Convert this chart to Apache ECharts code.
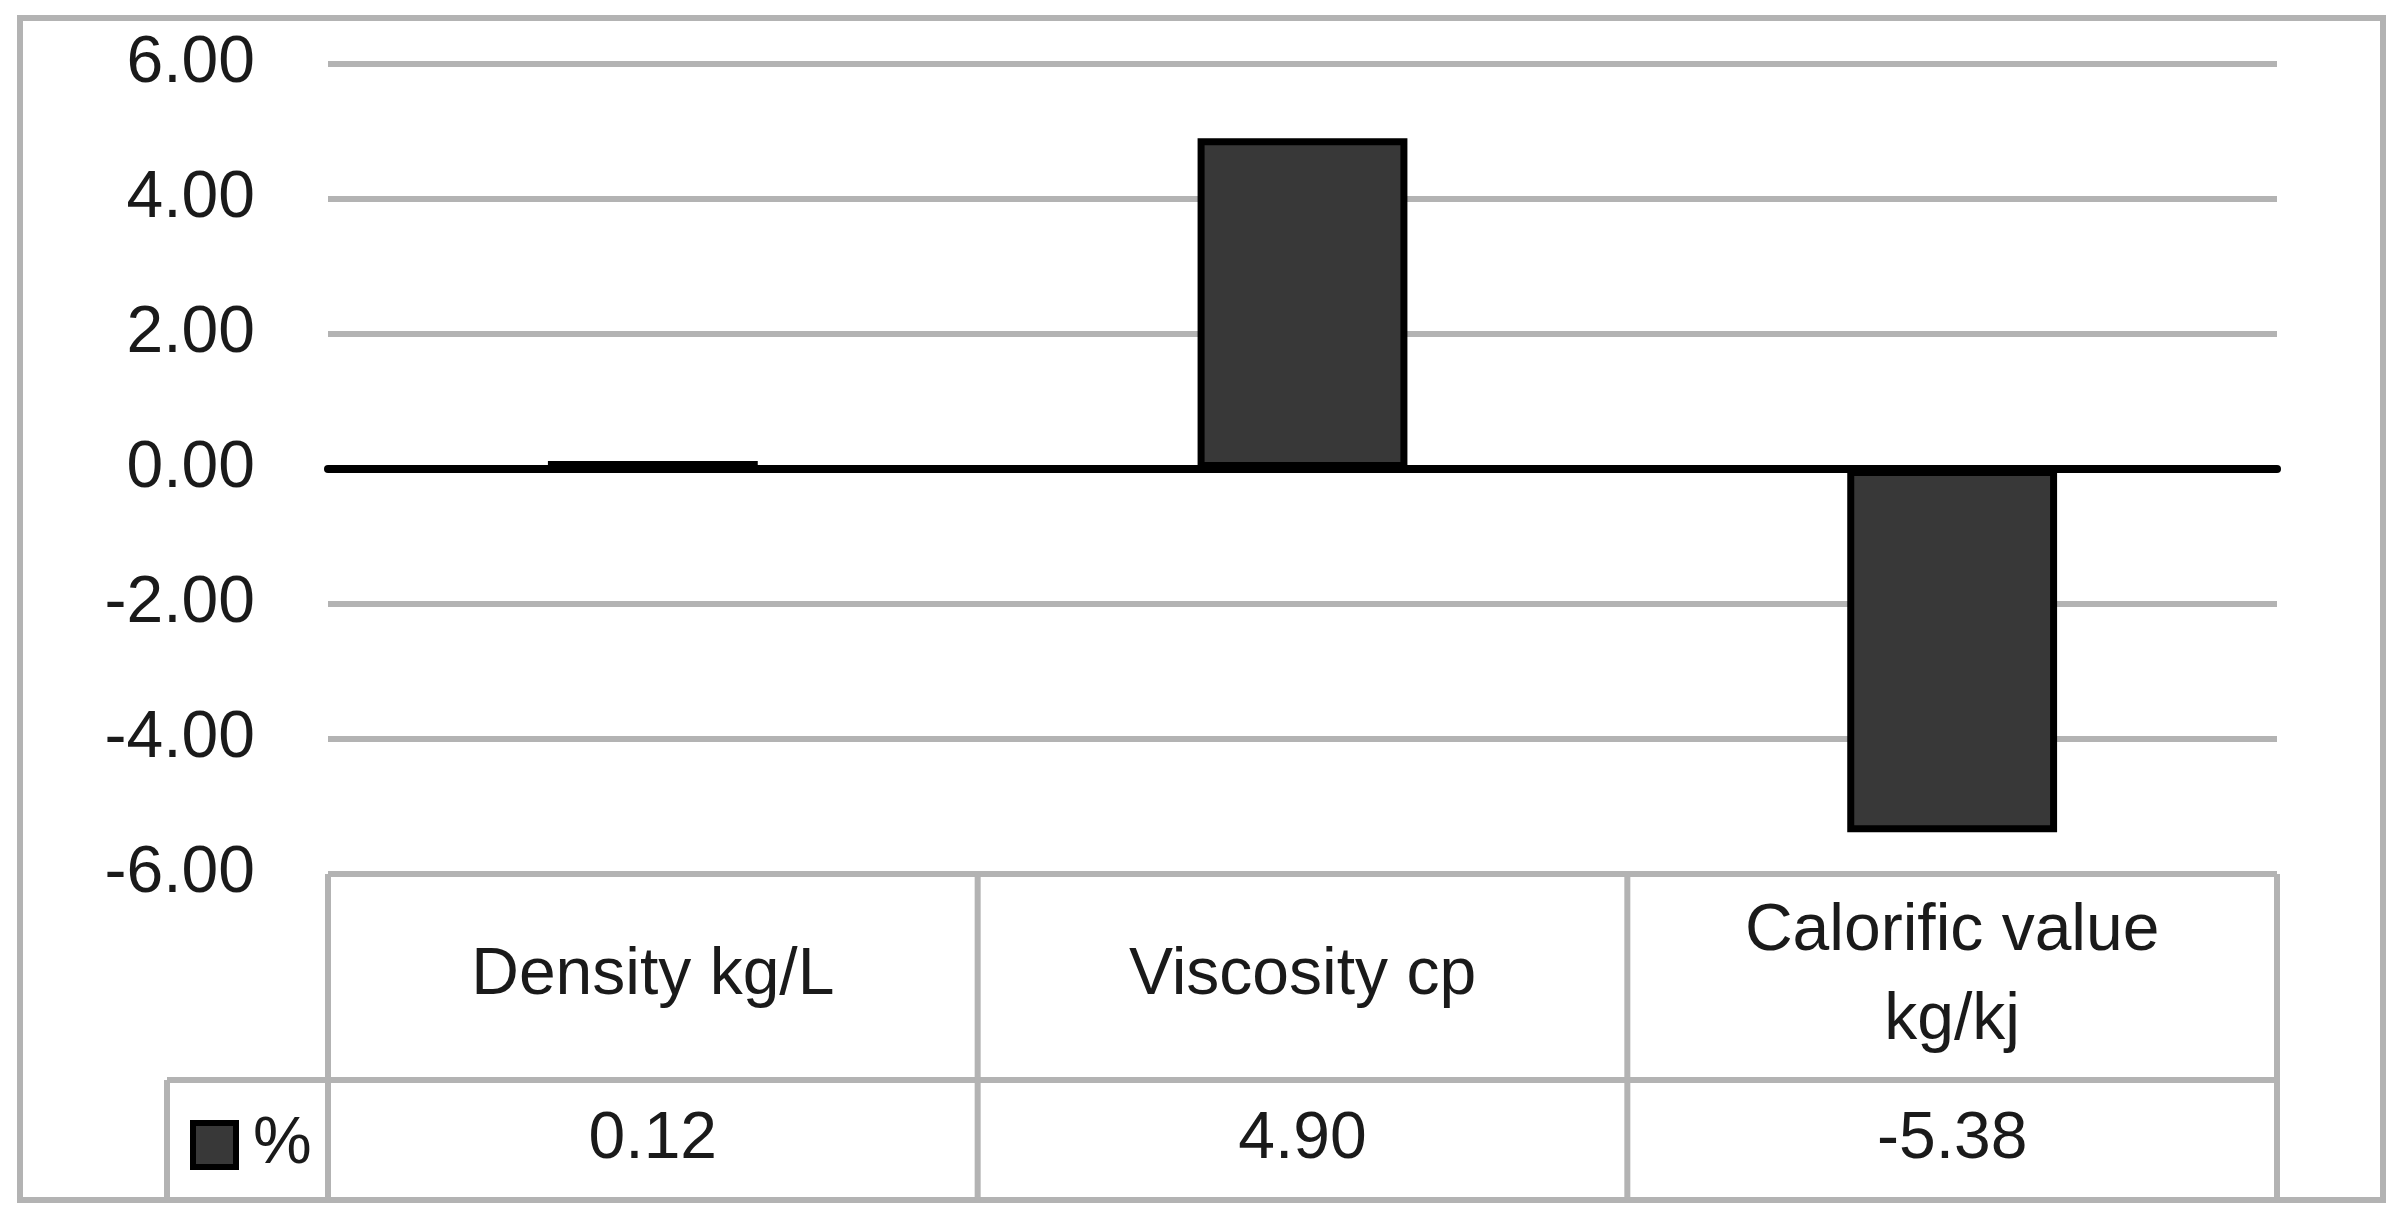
<!DOCTYPE html>
<html>
<head>
<meta charset="utf-8">
<script src="https://cdn.jsdelivr.net/npm/echarts@6/dist/echarts.min.js"></script>
<style>
html,body{margin:0;padding:0;background:#fff;}
#chart{width:2403px;height:1220px;}
</style>
</head>
<body>
<div id="chart"></div>
<script>
// ---- data ----
const categories = ['Density kg/L', 'Viscosity cp', 'Calorific value\nkg/kj'];
const seriesName = '%';
const values = [0.12, 4.90, -5.38];
const yTicks = { min: -6, max: 6, interval: 2 };

// ---- layout constants ----
const W = 2403, H = 1220;
const gridL = 328, gridR = 2277, gridT = 64, gridB = 874;
const rowSplit = 1080, tableBottom = 1200, legendCellL = 167;
const frame = { x: 20, y: 18, x2: 2383, y2: 1200 };
const gray = '#b3b3b3';
const font = 'Liberation Sans, Arial, sans-serif';
const textColor = '#1a1a1a';
const fs = 66;

const chart = echarts.init(document.getElementById('chart'), null, { renderer: 'canvas' });

const colW = (gridR - gridL) / categories.length;
const graphics = [];
graphics.push({ type: 'rect', shape: { x: frame.x, y: frame.y, width: frame.x2 - frame.x, height: frame.y2 - frame.y }, style: { fill: 'none', stroke: gray, lineWidth: 6 }, z: 1 });
graphics.push({ type: 'line', shape: { x1: legendCellL, y1: rowSplit, x2: gridR, y2: rowSplit }, style: { stroke: gray, lineWidth: 6 }, z: 1 });
for (let i = 0; i <= categories.length; i++) {
  const x = gridL + i * colW;
  graphics.push({ type: 'line', shape: { x1: x, y1: gridB, x2: x, y2: tableBottom }, style: { stroke: gray, lineWidth: 6 }, z: 1 });
}
graphics.push({ type: 'line', shape: { x1: legendCellL, y1: rowSplit, x2: legendCellL, y2: tableBottom }, style: { stroke: gray, lineWidth: 6 }, z: 1 });

chart.setOption({
  backgroundColor: '#fff',
  animation: false,
  textStyle: { fontFamily: font },
  grid: { left: gridL, right: W - gridR, top: gridT, bottom: H - gridB, containLabel: false },
  legend: {
    left: 190, top: 1112, padding: 0,
    itemWidth: 43, itemHeight: 44,
    icon: 'rect',
    itemStyle: { color: '#383838', borderColor: '#000', borderWidth: 6 },
    textStyle: { fontSize: fs, color: textColor, fontFamily: font, padding: [0, 0, 0, 12] },
    data: [seriesName]
  },
  xAxis: [
    {
      type: 'category', data: categories, gridIndex: 0,
      axisLine: { onZero: true, lineStyle: { color: '#000', width: 8 } },
      axisTick: { show: false }, axisLabel: { show: false }, splitLine: { show: false }
    },
    {
      type: 'category', data: categories, gridIndex: 0, position: 'bottom',
      axisLine: { show: false, onZero: false }, axisTick: { show: false }, splitLine: { show: false },
      axisLabel: { fontSize: fs, color: textColor, fontFamily: font, margin: 102, verticalAlign: 'middle', lineHeight: 89, align: 'center' }
    },
    {
      type: 'category', data: categories, gridIndex: 0, position: 'bottom',
      axisLine: { show: false, onZero: false }, axisTick: { show: false }, splitLine: { show: false },
      axisLabel: { fontSize: fs, color: textColor, fontFamily: font, margin: 266, verticalAlign: 'middle', align: 'center',
        formatter: function (v, i) { return values[i].toFixed(2); } }
    }
  ],
  yAxis: {
    type: 'value', min: yTicks.min, max: yTicks.max, interval: yTicks.interval,
    axisLine: { show: false }, axisTick: { show: false },
    splitLine: { lineStyle: { color: gray, width: 6 } },
    axisLabel: { fontSize: fs, color: textColor, fontFamily: font, margin: 73, formatter: v => v.toFixed(2) }
  },
  series: [{
    name: seriesName, type: 'bar', xAxisIndex: 0, yAxisIndex: 0,
    data: values, barWidth: '32.3%',
    itemStyle: { color: '#383838', borderColor: '#000', borderWidth: 7 },
    z: 3
  }],
  graphic: graphics
});
</script>
</body>
</html>
